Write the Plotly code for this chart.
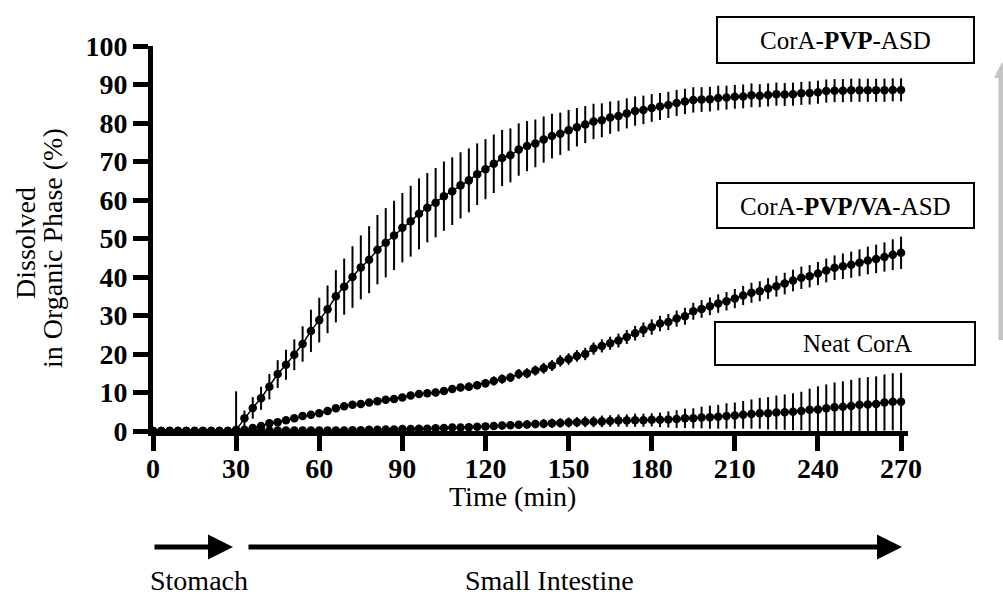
import plotly.graph_objects as go

# sampling times (min)
time = [0, 3, 6, 9, 12, 15, 18, 21, 24, 27,
        30, 33, 36, 39, 42, 45, 48, 51, 54, 57,
        60, 63, 66, 69, 72, 75, 78, 81, 84, 87,
        90, 93, 96, 99, 102, 105, 108, 111, 114, 117,
        120, 123, 126, 129, 132, 135, 138, 141, 144, 147,
        150, 153, 156, 159, 162, 165, 168, 171, 174, 177,
        180, 183, 186, 189, 192, 195, 198, 201, 204, 207,
        210, 213, 216, 219, 222, 225, 228, 231, 234, 237,
        240, 243, 246, 249, 252, 255, 258, 261, 264, 267,
        270]

# CorA-PVP-ASD
pvp_mean = [0, 0, 0, 0, 0, 0, 0, 0, 0, 0,
            0.3, 3.3, 6.0, 8.5, 11.5, 14.8, 17.2, 19.8, 22.6, 26.0,
            28.8, 31.6, 35.0, 37.5, 40.0, 42.5, 44.5, 47.1, 48.9, 50.8,
            52.8, 54.5, 56.4, 58.0, 59.3, 61.0, 62.3, 63.8, 65.1, 66.7,
            68.0, 69.4, 70.9, 71.6, 73.1, 74.0, 74.7, 75.7, 76.6, 77.2,
            78.1, 78.9, 79.6, 80.4, 80.7, 81.4, 81.8, 82.5, 83.1, 83.4,
            83.9, 84.3, 84.7, 85.2, 85.6, 86.0, 86.1, 86.2, 86.5, 86.6,
            86.8, 86.9, 87.2, 87.1, 87.3, 87.5, 87.4, 87.5, 87.7, 87.8,
            88.0, 88.3, 88.4, 88.4, 88.5, 88.5, 88.5, 88.5, 88.5, 88.6,
            88.6]
pvp_sd = [0, 0, 0, 0, 0, 0, 0, 0, 0, 0,
          10.0, 2.0, 2.8, 3.0, 3.3, 3.6, 3.9, 4.0, 4.6, 5.5,
          5.8, 6.2, 6.8, 7.3, 8.0, 8.3, 8.7, 9.0, 9.0, 9.0,
          9.0, 9.2, 9.2, 9.0, 9.0, 9.0, 8.8, 8.6, 8.3, 8.0,
          7.8, 7.6, 7.3, 7.0, 6.8, 6.5, 6.2, 6.0, 5.8, 5.5,
          5.3, 5.0, 4.8, 4.6, 4.4, 4.2, 4.0, 3.9, 3.8, 3.7,
          3.6, 3.5, 3.4, 3.4, 3.3, 3.3, 3.2, 3.2, 3.2, 3.1,
          3.1, 3.1, 3.1, 3.0, 3.0, 3.0, 3.0, 3.0, 3.0, 3.0,
          3.0, 3.0, 3.0, 3.0, 3.0, 3.0, 3.0, 3.0, 3.0, 3.0,
          3.0]

# CorA-PVP/VA-ASD
pvpva_mean = [0, 0, 0, 0, 0, 0, 0, 0, 0, 0,
              0, 0.3, 0.8, 1.3, 2.0, 2.3, 2.8, 3.3, 3.9, 4.2,
              4.6, 5.2, 5.9, 6.4, 6.8, 7.0, 7.4, 7.7, 8.1, 8.3,
              8.7, 9.2, 9.6, 9.8, 10.0, 10.4, 10.9, 11.3, 11.5, 11.9,
              12.4, 13.0, 13.5, 13.9, 14.8, 15.0, 15.7, 16.3, 17.0, 18.2,
              18.7, 19.5, 20.0, 21.4, 22.1, 22.8, 23.5, 24.4, 25.4, 26.3,
              27.0, 27.9, 28.3, 29.2, 29.8, 31.1, 31.7, 32.4, 33.1, 33.7,
              34.4, 35.2, 35.9, 36.3, 37.0, 37.6, 38.3, 39.1, 39.8, 40.2,
              40.9, 41.7, 42.4, 42.8, 43.2, 43.7, 44.3, 44.7, 45.2, 45.8,
              46.3]
pvpva_sd = [0, 0, 0, 0, 0, 0, 0, 0, 0, 0,
            0, 0.3, 0.4, 0.5, 0.5, 0.5, 0.5, 0.6, 0.6, 0.6,
            0.7, 0.7, 0.7, 0.8, 0.8, 0.8, 0.8, 0.8, 0.9, 0.9,
            0.9, 0.9, 1.0, 1.0, 1.0, 1.0, 1.0, 1.0, 1.1, 1.1,
            1.1, 1.2, 1.2, 1.2, 1.3, 1.3, 1.3, 1.4, 1.4, 1.5,
            1.5, 1.5, 1.6, 1.6, 1.7, 1.7, 1.8, 1.8, 1.9, 1.9,
            2.0, 2.0, 2.1, 2.1, 2.2, 2.2, 2.3, 2.3, 2.4, 2.4,
            2.5, 2.5, 2.6, 2.6, 2.7, 2.7, 2.8, 2.8, 2.9, 2.9,
            3.0, 3.1, 3.2, 3.3, 3.4, 3.5, 3.6, 3.7, 3.8, 4.0,
            4.2]

# Neat CorA
neat_mean = [0, 0, 0, 0, 0, 0, 0, 0, 0, 0,
             0, 0, 0, 0.1, 0.1, 0.1, 0.1, 0.1, 0.1, 0.1,
             0.1, 0.1, 0.1, 0.1, 0.2, 0.2, 0.3, 0.3, 0.4, 0.4,
             0.5, 0.5, 0.6, 0.6, 0.7, 0.8, 0.9, 0.9, 1.0, 1.1,
             1.2, 1.3, 1.4, 1.5, 1.6, 1.7, 1.8, 1.9, 2.0, 2.1,
             2.2, 2.3, 2.4, 2.4, 2.5, 2.6, 2.7, 2.7, 2.8, 2.8,
             2.9, 2.9, 3.0, 3.1, 3.3, 3.3, 3.5, 3.6, 3.7, 3.9,
             4.0, 4.2, 4.4, 4.6, 4.6, 4.8, 4.9, 5.0, 5.2, 5.5,
             5.6, 5.9, 6.2, 6.3, 6.5, 6.8, 6.9, 7.0, 7.4, 7.6,
             7.6]
neat_sd = [0, 0, 0, 0, 0, 0, 0, 0, 0, 0,
           0, 0, 0, 0, 0, 0, 0, 0, 0, 0,
           0.2, 0.2, 0.3, 0.3, 0.3, 0.4, 0.4, 0.4, 0.5, 0.5,
           0.5, 0.6, 0.6, 0.6, 0.7, 0.7, 0.7, 0.8, 0.8, 0.8,
           0.9, 0.9, 1.0, 1.0, 1.0, 1.1, 1.1, 1.2, 1.2, 1.2,
           1.3, 1.3, 1.4, 1.4, 1.5, 1.5, 1.6, 1.6, 1.7, 1.7,
           1.7, 1.9, 2.1, 2.3, 2.5, 2.6, 2.8, 3.0, 3.1, 3.3,
           3.4, 3.6, 3.8, 4.0, 4.2, 4.4, 4.6, 4.8, 5.0, 5.5,
           6.0, 6.2, 6.4, 6.6, 6.8, 7.0, 7.1, 7.2, 7.3, 7.4,
           7.5]

series = [
    (pvp_mean, pvp_sd),
    (pvpva_mean, pvpva_sd),
    (neat_mean, neat_sd),
]
for m, s in series:
    assert len(m) == len(time) and len(s) == len(time)

# plot area in page pixels (body margin is removed below)
W, H = 1003, 595
X0, X1 = 153, 908
Y0, Y1 = 431, 46


def px(x):
    return (x - X0) / (X1 - X0)


def py(y):
    return (Y0 - y) / (Y0 - Y1)


FONT = 'Liberation Serif'

fig = go.Figure()
for m, s in series:
    # bars are not drawn below zero
    minus = [min(e, v) for e, v in zip(s, m)]
    fig.add_trace(
        go.Scatter(
            x=time,
            y=m,
            mode='lines+markers',
            line=dict(color='black', width=1.5),
            marker=dict(color='black', size=8.5),
            error_y=dict(
                type='data', array=s, arrayminus=minus, symmetric=False,
                color='black', thickness=2, width=0
            ),
            cliponaxis=False,
        )
    )

axis_style = dict(
    showline=True,
    linewidth=5,
    linecolor='black',
    ticks='outside',
    ticklen=15,
    tickwidth=5,
    tickcolor='black',
    showgrid=False,
    zeroline=False,
    tickfont=dict(family=FONT, size=28, color='black', weight='bold'),
)

fig.update_xaxes(range=[0, 272.5], tickvals=list(range(0, 271, 30)),
                 ticklabelstandoff=-7, **axis_style)
fig.update_yaxes(range=[0, 100], dtick=10, **axis_style)

annotations = []

def text(x, y, s, size=28, angle=0):
    annotations.append(dict(
        x=px(x), y=py(y), xref='paper', yref='paper', text=s,
        showarrow=False, xanchor='center', yanchor='middle', textangle=angle,
        font=dict(family=FONT, size=size, color='black'),
    ))

text(512, 496, 'Time (min)')
text(199, 580, 'Stomach')
text(549, 580, 'Small Intestine')
text(25, 243, 'Dissolved', angle=-90)
text(53, 248, 'in Organic Phase (%)', angle=-90)
text(845, 40, 'CorA-<b>PVP</b>-ASD', size=25)
text(845, 206, 'CorA-<b>PVP/VA</b>-ASD', size=25)
text(857, 343, 'Neat CorA', size=25)

# black stage arrows under the x axis
def arrow(x_tip, y_tip, x_tail, y_tail, color='black', width=5):
    annotations.append(dict(
        x=px(x_tip), y=py(y_tip), xref='paper', yref='paper', text='',
        showarrow=True, ax=x_tail - x_tip, ay=y_tail - y_tip,
        axref='pixel', ayref='pixel',
        arrowhead=2, arrowsize=1, arrowwidth=width, arrowcolor=color,
        standoff=0, startstandoff=0,
    ))

arrow(233, 547, 153, 547)
arrow(902, 547, 247, 547)

shapes = []
for x0, y0, x1, y1 in [(717, 17, 974, 63), (717, 183, 974, 228), (715, 322, 975, 365)]:
    shapes.append(dict(
        type='rect', xref='paper', yref='paper',
        x0=px(x0), x1=px(x1), y0=py(y1), y1=py(y0),
        line=dict(color='black', width=2), fillcolor='rgba(0,0,0,0)', layer='above',
    ))

# grey arrow at the right edge (partly cut off)
GREY = '#c4c4c4'
shapes.append(dict(
    type='line', xref='paper', yref='paper',
    x0=px(1001), x1=px(1001), y0=py(340), y1=py(74),
    line=dict(color=GREY, width=5),
))
shapes.append(dict(
    type='path', xref='paper', yref='paper',
    path='M {},{} L {},{} L {},{} Z'.format(
        px(1002), py(62), px(994), py(78), px(1010), py(78)),
    line=dict(color=GREY, width=0), fillcolor=GREY,
))

fig.update_layout(
    width=W,
    height=H,
    margin=dict(l=X0, r=W - X1, t=Y1, b=H - Y0),
    plot_bgcolor='white',
    paper_bgcolor='white',
    showlegend=False,
    font=dict(family=FONT, color='black'),
    annotations=annotations,
    shapes=shapes,
)

fig.write_html(
    "out.html",
    config={'displayModeBar': False},
    post_script="document.body.style.margin='0';document.body.style.overflow='hidden';",
)
